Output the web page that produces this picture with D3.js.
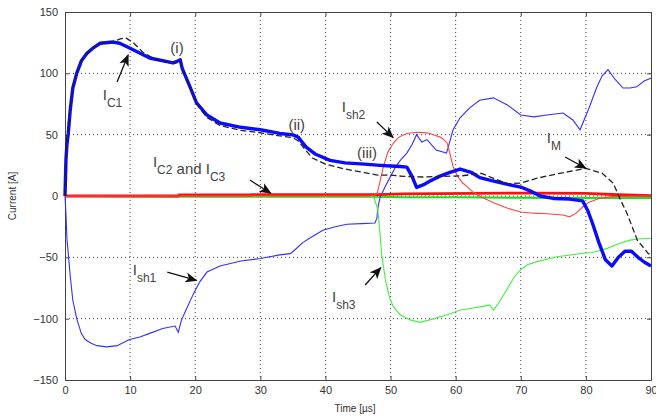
<!DOCTYPE html>
<html>
<head>
<meta charset="utf-8">
<script src="https://cdn.jsdelivr.net/npm/d3@7"></script>
<style>
body { margin: 0; background: #fff; }
svg text { font-family: "Liberation Sans", Arial, sans-serif; }
</style>
</head>
<body>
<svg id="chart"></svg>
<script>
var width = 656, height = 419;
var margin = {top: 12, right: 5, bottom: 39, left: 65};

// axis ticks
var xTicks = [0, 10, 20, 30, 40, 50, 60, 70, 80, 90];
var yTicks = [-150, -100, -50, 0, 50, 100, 150];

// I_C1 (thick blue)
var tC1 = [0, 0.15, 0.3, 0.5, 0.8, 1.2, 1.8, 2.5, 3.4, 4.4, 5.4, 7.4, 8.4, 10, 13, 16.6, 17.3, 17.7, 18, 19.2, 20.2, 21.8, 23.8, 27, 30, 33, 35, 35.8, 37, 38.5, 40.7, 43, 46, 48.4, 50, 51.5, 52.5, 53.3, 54, 55, 56, 57.5, 59, 60.7, 62.5, 63.7, 66, 68, 70, 71.5, 73, 75, 77.5, 79.5, 80.3, 81, 82, 83, 84, 85, 86, 87, 88, 89, 90];
var iC1 = [0, 30, 42, 51, 70, 88, 100, 110, 116.5, 121, 124.5, 125.5, 124.5, 120.5, 112.5, 108.5, 110, 111, 104, 89, 76, 66, 59.5, 56, 54, 51, 49.8, 48, 40, 34, 29, 27, 26, 25, 24.5, 24, 23.5, 16, 7, 9, 12, 16, 19, 22, 19, 15, 12, 9.5, 7.3, 4, 0, -2, -2.5, -4, -12, -22, -38, -52, -57, -50, -45, -45, -50, -54, -57];

// I_M (black dashed)
var tM = [0, 0.15, 0.3, 0.5, 0.8, 1.2, 1.8, 2.5, 3.4, 4.4, 5.4, 7.4, 8.5, 9.3, 10.5, 12, 14, 16.6, 17.3, 17.7, 18, 19.2, 20.2, 21.8, 23.8, 27, 30, 33, 35, 35.8, 37, 38, 40, 43, 46, 48, 50, 52, 55, 58, 61, 64, 66, 68, 70, 72.5, 76, 78, 80, 82.5, 84.2, 85.3, 86.3, 87.9, 89.6, 90];
var iM = [0, 28, 45, 58, 72, 89, 101, 110, 116, 121, 124, 126, 128, 129, 125, 117, 111, 108, 109, 110, 103, 88, 75, 64, 57.5, 53.5, 51.5, 49, 47.5, 45, 37, 31, 26, 22, 19, 17, 17, 16, 15.5, 16, 16.5, 18.5, 14, 10, 10.5, 14.5, 18.5, 20.5, 22.5, 18.5, 10.5, -3, -14, -36, -47, -48];

// I_sh1 (thin blue)
var tSh1 = [0, 0.15, 0.3, 0.5, 0.8, 1.2, 1.8, 2.5, 3.1, 4, 4.9, 6.4, 8, 9.9, 11.5, 13, 15, 16.9, 17.4, 17.9, 18.5, 19.7, 20.7, 21.8, 23.8, 27, 30, 33, 34.6, 35.5, 36.5, 38, 39.6, 41.5, 43.3, 45.5, 47.6, 47.9, 48.1, 48.4, 49.2, 50, 50.8, 51.5, 52.5, 53.3, 54, 54.8, 55.6, 57, 58.6, 59.6, 60.7, 62.2, 63.7, 65.8, 68, 70, 72, 74, 76.5, 78, 79.1, 80.5, 81.7, 82.5, 83.4, 84.5, 85.7, 86.8, 87.8, 89, 90];
var iSh1 = [0, -15, -35, -47, -65, -85, -100, -112, -117, -120, -122, -123, -122, -117, -115, -112, -108, -106, -111, -101, -94, -80, -70, -62, -57, -53, -51, -48, -47, -43, -38, -33, -28, -25, -23, -22.5, -22, -18, -8, -1, 8, 16, 24, 29, 35, 42, 50, 44, 46, 37.5, 35, 54, 64, 72, 78, 80, 74, 66, 64.5, 66, 67.6, 62, 54, 72, 89, 98, 103, 95, 88, 88, 89, 94, 96];

// I_sh2 (thin red)
var tSh2 = [0, 46.5, 47.5, 48, 48.9, 49.6, 50.4, 51.3, 52.5, 54, 55.6, 56.6, 57.6, 58.2, 58.7, 59.1, 59.6, 60.2, 61, 61.8, 62.7, 64, 66, 68, 70, 72, 74, 76.5, 77.5, 78.5, 79.5, 80.5, 82, 84, 90];
var iSh2 = [0, 0, 0.5, 3, 24, 36, 43, 48, 51, 52, 51.5, 50, 48, 46, 43, 35, 24, 17, 11, 7.5, 3, -1, -6, -10, -13, -14, -14.5, -15.5, -17, -14, -9, -5, -2, -0.5, 0];

// I_sh3 (thin green)
var tSh3 = [0, 47, 47.5, 48, 48.3, 48.6, 49.2, 49.8, 50.4, 51.5, 53, 54.5, 56, 58.6, 60.7, 62.5, 64.2, 65.2, 65.8, 66.5, 67.9, 69, 70, 71, 72.5, 75.6, 79.6, 81, 83.3, 85, 86.8, 88, 90];
var iSh3 = [0, 0, -2, -10, -25, -46, -68, -82, -90, -97, -101, -103, -101, -97, -93, -91.5, -90, -89, -93, -88, -76, -66, -60, -56, -53.5, -49.5, -46.7, -46, -42.7, -39, -36, -35, -34.5];

// I_C2 (thick red) and I_C3 (green)
var tC2 = [0, 17.4, 17.5, 28.5, 28.6, 48, 52, 72, 80, 85, 90];
var iC2 = [0, 0, 0.8, 0.8, 1.2, 1.2, 1.8, 2.4, 2.2, 1, 0.3];
var tC3 = [0, 20, 47, 52, 60, 76, 90];
var iC3 = [0, -0.5, -0.6, -1, -1, -1.6, -1.6];

var x = d3.scaleLinear().domain([0, 90]).range([margin.left, width - margin.right]);
var y = d3.scaleLinear().domain([-150, 150]).range([height - margin.bottom, margin.top]);

var svg = d3.select('#chart').attr('width', width).attr('height', height);

var defs = svg.append('defs');
defs.append('marker')
    .attr('id', 'head')
    .attr('markerUnits', 'userSpaceOnUse')
    .attr('viewBox', '0 -5 12 10')
    .attr('refX', 11).attr('refY', 0)
    .attr('markerWidth', 13).attr('markerHeight', 10)
    .attr('orient', 'auto')
    .append('path')
    .attr('d', 'M0,-5L12,0L0,5L3,0Z')
    .attr('fill', '#111');

// grid
var grid = svg.append('g');
grid.selectAll('.gx').data(xTicks.slice(1, -1)).enter().append('line')
    .attr('x1', function(d) { return x(d); }).attr('x2', function(d) { return x(d); })
    .attr('y1', y(150)).attr('y2', y(-150))
    .attr('stroke', '#444').attr('stroke-dasharray', '1,3');
grid.selectAll('.gy').data(yTicks.slice(1, -1)).enter().append('line')
    .attr('x1', x(0)).attr('x2', x(90))
    .attr('y1', function(d) { return y(d); }).attr('y2', function(d) { return y(d); })
    .attr('stroke', '#444').attr('stroke-dasharray', '1,3');

// axes
svg.append('g').attr('transform', 'translate(0,' + y(-150) + ')')
    .call(d3.axisBottom(x).tickValues(xTicks).tickSizeInner(-4).tickSizeOuter(0).tickPadding(6));
svg.append('g').attr('transform', 'translate(' + x(0) + ',0)')
    .call(d3.axisLeft(y).tickValues(yTicks).tickSizeInner(-4).tickSizeOuter(0).tickPadding(7));
svg.append('g').attr('transform', 'translate(0,' + y(150) + ')')
    .call(d3.axisTop(x).tickValues(xTicks).tickSizeInner(-4).tickSizeOuter(0).tickFormat(''));
svg.append('g').attr('transform', 'translate(' + x(90) + ',0)')
    .call(d3.axisRight(y).tickValues(yTicks).tickSizeInner(-4).tickSizeOuter(0).tickFormat(''));
svg.selectAll('.domain').attr('stroke', '#444');
svg.selectAll('.tick line').attr('stroke', '#444');
svg.selectAll('.tick text').attr('font-size', 11).attr('fill', '#333')
    .attr('font-family', '"Liberation Sans", Arial, sans-serif');

svg.append('text').attr('x', (x(0) + x(90)) / 2 - 3).attr('y', 412)
    .attr('text-anchor', 'middle').attr('font-size', 10).attr('fill', '#333')
    .text('Time [µs]');
svg.append('text')
    .attr('transform', 'translate(16,' + y(0) + ')rotate(-90)')
    .attr('text-anchor', 'middle').attr('font-size', 10).attr('fill', '#333')
    .text('Current [A]');

function series(t, v) {
    return t.map(function(d, i) { return [d, v[i]]; });
}
var line = d3.line().x(function(d) { return x(d[0]); }).y(function(d) { return y(d[1]); });

var plot = svg.append('g');
plot.append('path').attr('d', line(series(tC3, iC3)))
    .attr('fill', 'none').attr('stroke', '#22dd22').attr('stroke-width', 2.2);
plot.append('path').attr('d', line(series(tSh1, iSh1)))
    .attr('fill', 'none').attr('stroke', '#3030ff').attr('stroke-width', 1.1);
plot.append('path').attr('d', line(series(tSh3, iSh3)))
    .attr('fill', 'none').attr('stroke', '#44ee44').attr('stroke-width', 1.1);
plot.append('path').attr('d', line(series(tC2, iC2)))
    .attr('fill', 'none').attr('stroke', '#ff1010').attr('stroke-width', 2.8);
plot.append('path').attr('d', line(series(tSh2, iSh2)))
    .attr('fill', 'none').attr('stroke', '#ff4444').attr('stroke-width', 1.1);
plot.append('path').attr('d', line(series(tC1, iC1)))
    .attr('fill', 'none').attr('stroke', '#0a0aff').attr('stroke-width', 3.4)
    .attr('stroke-linejoin', 'round');
plot.append('path').attr('d', line(series(tM, iM)))
    .attr('fill', 'none').attr('stroke', '#222').attr('stroke-width', 1.3)
    .attr('stroke-dasharray', '6,3');

// annotations: text anchor and arrow in data units
var notes = [
    {parts: [['(i)', '']], t: 17.2, v: 116.5, anchor: 'middle'},
    {parts: [['I', 'C1']], t: 5.8, v: 78, arrow: [8.0, 93, 9.7, 115]},
    {parts: [['(ii)', '']], t: 35.6, v: 53.8, anchor: 'middle'},
    {parts: [['(iii)', '']], t: 46.4, v: 31, anchor: 'middle'},
    {parts: [['I', 'sh2']], t: 42.5, v: 68.5, arrow: [47.9, 60.3, 50.4, 47.6]},
    {parts: [['I', 'M']], t: 74, v: 43, arrow: [76.8, 31.8, 80.0, 22.6]},
    {parts: [['I', 'C2'], [' and I', 'C3']], t: 13.5, v: 23.6, arrow: [28.4, 13, 31.6, 2.2]},
    {parts: [['I', 'sh1']], t: 10.4, v: -64.4, arrow: [15.7, -62, 20.2, -68.8]},
    {parts: [['I', 'sh3']], t: 41, v: -86.4, arrow: [46.1, -72.6, 48.5, -58.4]}
];

var ann = svg.append('g');
notes.forEach(function(n) {
    var txt = ann.append('text')
        .attr('x', x(n.t)).attr('y', y(n.v))
        .attr('text-anchor', n.anchor || 'start')
        .attr('font-size', 15).attr('fill', '#444');
    n.parts.forEach(function(p) {
        txt.append('tspan').text(p[0]);
        if (p[1]) {
            txt.append('tspan').attr('dy', 7).attr('font-size', 12).text(p[1]);
            txt.append('tspan').attr('dy', -7).text('');
        }
    });
    if (n.arrow) {
        ann.append('line')
            .attr('x1', x(n.arrow[0])).attr('y1', y(n.arrow[1]))
            .attr('x2', x(n.arrow[2])).attr('y2', y(n.arrow[3]))
            .attr('stroke', '#111').attr('stroke-width', 1.3)
            .attr('marker-end', 'url(#head)');
    }
});
</script>
</body>
</html>
